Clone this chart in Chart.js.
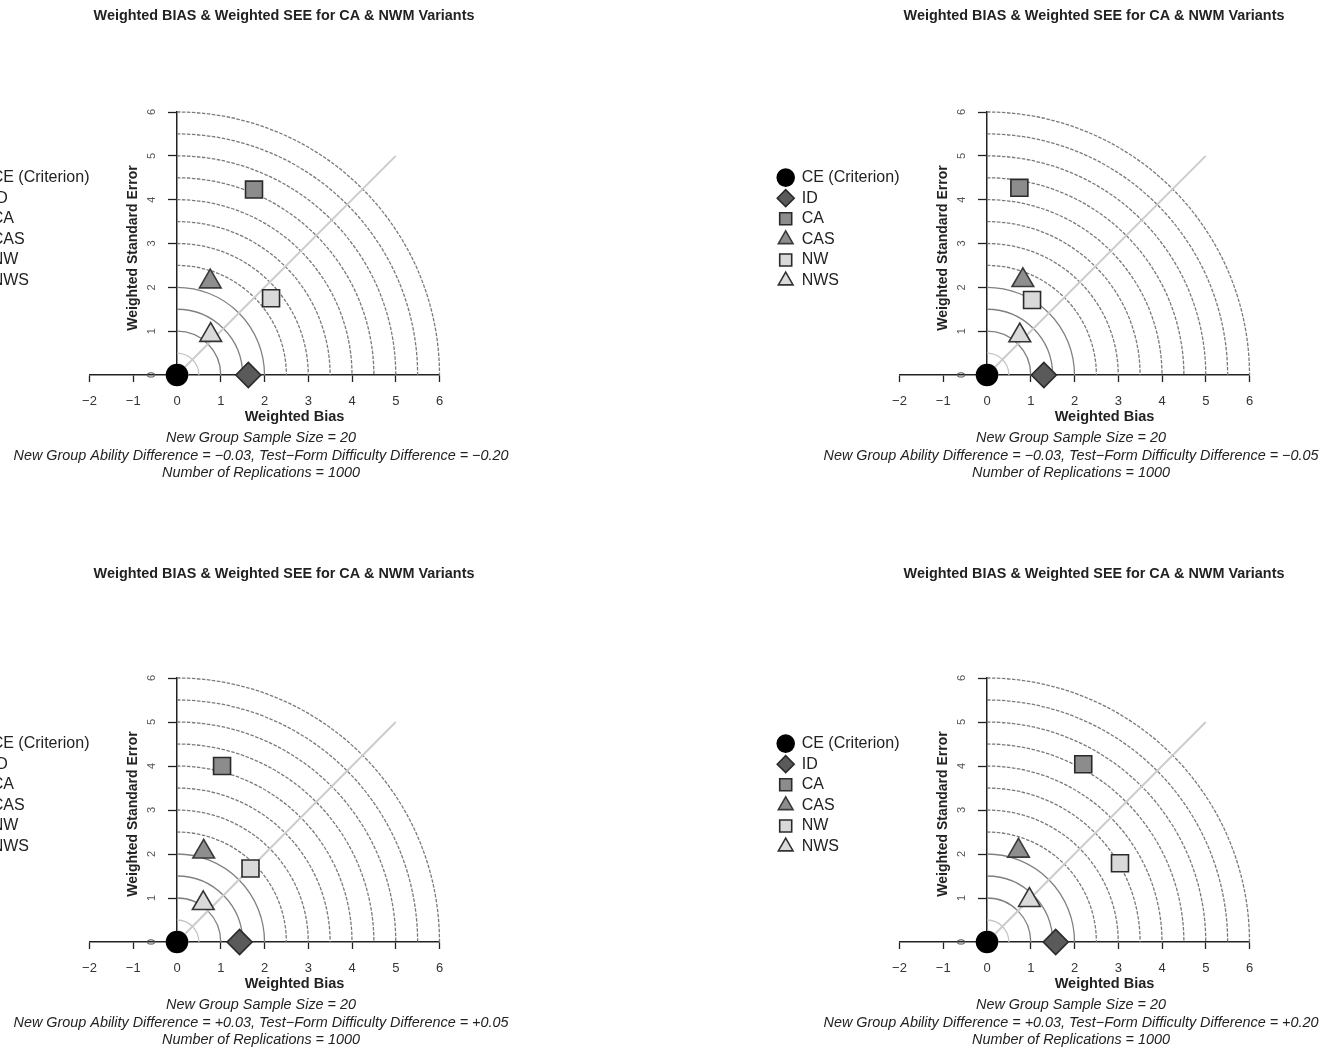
<!DOCTYPE html>
<html lang="en">
<head>
<meta charset="UTF-8">
<title>Weighted BIAS & Weighted SEE for CA & NWM Variants</title>
<script src="https://cdn.jsdelivr.net/npm/chart.js@4.4.1/dist/chart.umd.min.js"></script>
<style>
  html, body { margin: 0; padding: 0; background: #fff; }
  body { width: 1323px; height: 1051px; position: relative; overflow: hidden; }
  canvas { position: absolute; }
</style>
</head>
<body>
<canvas id="c1" width="668" height="500" style="left:-50px;top:0"></canvas>
<canvas id="c2" width="668" height="500" style="left:760px;top:0"></canvas>
<canvas id="c3" width="668" height="486" style="left:-50px;top:565px"></canvas>
<canvas id="c4" width="668" height="486" style="left:760px;top:565px"></canvas>
<script>
// methods shown in every panel
var series = ['CE (Criterion)', 'ID', 'CA', 'CAS', 'NW', 'NWS'];

// weighted bias (x) and weighted standard error (y) per panel
var biasTL = [0, 1.63, 1.76, 0.76, 2.15, 0.77];
var seeTL  = [0, 0, 4.23, 2.13, 1.75, 0.91];
var biasTR = [0, 1.30, 0.74, 0.82, 1.03, 0.75];
var seeTR  = [0, 0, 4.27, 2.16, 1.71, 0.90];
var biasBL = [0, 1.43, 1.03, 0.61, 1.68, 0.60];
var seeBL  = [0, 0, 4.00, 2.05, 1.67, 0.88];
var biasBR = [0, 1.57, 2.20, 0.72, 3.04, 0.97];
var seeBR  = [0, 0, 4.04, 2.07, 1.79, 0.95];

// simulation conditions for the captions
var abilityDiff = ['\u22120.03', '\u22120.03', '+0.03', '+0.03'];
var difficultyDiff = ['\u22120.20', '\u22120.05', '+0.05', '+0.20'];
var sampleSize = 20;
var replications = 1000;
var chartTitle = 'Weighted BIAS & Weighted SEE for CA & NWM Variants';

// reference arcs and the diagonal
var arcRadii = [0.25, 0.5, 1, 1.5, 2, 2.5, 3, 3.5, 4, 4.5, 5, 5.5, 6];
var diagonalEnd = 5;

var FONT = '"Liberation Sans", Arial, sans-serif';
var pointStyles = ['circle', 'rectRot', 'rect', 'triangle', 'rect', 'triangle'];
var fills = ['#000000', '#5a5a5a', '#8c8c8c', '#8e8e8e', '#d9d9d9', '#dadada'];
var borders = ['#000000', '#2a2a2a', '#2a2a2a', '#3a3a3a', '#2a2a2a', '#333333'];
var radii = [10.5, 12.5, 12, 12.5, 12, 12.5];

// arcs, diagonal, rotated y labels and the captions, placed with the chart scales
var guides = {
  id: 'guides',
  beforeDatasetsDraw: function (chart) {
    var ctx = chart.ctx, xs = chart.scales.x, ys = chart.scales.y;
    var cx = xs.getPixelForValue(0), cy = ys.getPixelForValue(0);
    ctx.save();
    arcRadii.forEach(function (r) {
      var rx = xs.getPixelForValue(r) - cx;
      var ry = cy - ys.getPixelForValue(r);
      ctx.beginPath();
      ctx.ellipse(cx, cy, rx, ry, 0, -Math.PI / 2, 0);
      if (r < 1) {
        ctx.strokeStyle = '#c6c6c6';
        ctx.setLineDash([]);
      } else if (r <= 2) {
        ctx.strokeStyle = '#808080';
        ctx.setLineDash([]);
      } else {
        ctx.strokeStyle = '#7a7a7a';
        ctx.setLineDash([3.5, 1.5]);
      }
      ctx.lineWidth = 1.3;
      ctx.stroke();
    });
    ctx.setLineDash([]);
    ctx.beginPath();
    ctx.moveTo(cx, cy);
    ctx.lineTo(xs.getPixelForValue(diagonalEnd), ys.getPixelForValue(diagonalEnd));
    ctx.strokeStyle = '#cccccc';
    ctx.lineWidth = 2;
    ctx.stroke();
    ctx.restore();
  },
  afterDraw: function (chart) {
    var ctx = chart.ctx, area = chart.chartArea;
    var xs = chart.scales.x, ys = chart.scales.y;
    var opts = chart.options.plugins.guides;
    var k = opts.panel;
    var lines = [
      'New Group Sample Size = ' + sampleSize,
      'New Group Ability Difference = ' + abilityDiff[k] + ', Test\u2212Form Difficulty Difference = ' + difficultyDiff[k],
      'Number of Replications = ' + replications
    ];
    ctx.save();
    ctx.textAlign = 'center';
    ctx.textBaseline = 'middle';

    // y tick labels, rotated like the axis title
    ctx.fillStyle = '#555';
    ctx.font = '11px ' + FONT;
    var ax = xs.getPixelForValue(0) - 25;
    ys.ticks.forEach(function (t) {
      ctx.save();
      ctx.translate(ax, ys.getPixelForValue(t.value));
      ctx.rotate(-Math.PI / 2);
      ctx.fillText(String(t.value), 0, 0);
      ctx.restore();
    });

    ctx.fillStyle = '#222';
    ctx.font = 'bold 14.4px ' + FONT;
    ctx.fillText(chartTitle, area.left + 194.5, opts.titleY);
    ctx.font = 'bold 14.5px ' + FONT;
    ctx.fillText('Weighted Bias', area.left + 205, area.bottom + 42);
    ctx.font = 'italic 14.4px ' + FONT;
    for (var i = 0; i < lines.length; i++) {
      ctx.fillText(lines[i], area.left + 171.5, area.bottom + 63 + 17.5 * i);
    }
    ctx.translate(area.left + 44, area.top + 136);
    ctx.rotate(-Math.PI / 2);
    ctx.font = 'bold 14px ' + FONT;
    ctx.fillText('Weighted Standard Error', 0, 0);
    ctx.restore();
  }
};

function makePanel(id, bias, see, k, titleY, areaTop, areaBottom) {
  var canvas = document.getElementById(id);

  var datasets = [];
  for (var i = 0; i < series.length; i++) {
    datasets.push({
      label: series[i],
      data: [{ x: bias[i], y: see[i] }],
      pointStyle: pointStyles[i],
      backgroundColor: fills[i],
      borderColor: borders[i],
      borderWidth: 1.6,
      pointRadius: radii[i],
      pointHoverRadius: radii[i],
      clip: false
    });
  }

  return new Chart(canvas.getContext('2d'), {
    type: 'scatter',
    data: { datasets: datasets },
    options: {
      responsive: false,
      animation: false,
      layout: { padding: { left: 13.1, right: 178.5, top: areaTop, bottom: 0 } },
      plugins: {
        guides: { panel: k, titleY: titleY },
        tooltip: { enabled: false },
        title: { display: false },
        legend: {
          position: 'left',
          align: 'start',
          fullSize: false,
          maxWidth: 126.4,
          // empty title only pushes the entries down to where the original has them
          title: { display: true, text: '', font: { size: 1 }, padding: { top: 51.8, bottom: 0 } },
          labels: {
            usePointStyle: true,
            boxWidth: 16,
            boxHeight: 12,
            padding: 4.6,
            color: '#222',
            font: { family: FONT, size: 16 }
          }
        }
      },
      scales: {
        x: {
          type: 'linear',
          position: 'bottom',
          min: -2,
          max: 6,
          afterFit: function (scale) { scale.height = canvas.height - areaBottom; },
          ticks: {
            stepSize: 1,
            padding: 12,
            color: '#333',
            font: { family: FONT, size: 13 },
            callback: function (v) { return String(v).replace('-', '\u2212'); }
          },
          grid: { drawOnChartArea: false, tickLength: 7, color: '#222', tickWidth: 1.3 },
          border: { color: '#222', width: 1.5 }
        },
        y: {
          type: 'linear',
          position: { x: 0 },
          min: 0,
          max: 6,
          ticks: { stepSize: 1, display: false },
          grid: { drawOnChartArea: false, tickLength: 8, color: '#222', tickWidth: 1.3 },
          border: { color: '#222', width: 1.5 }
        }
      }
    },
    plugins: [guides]
  });
}

makePanel('c1', biasTL, seeTL, 0, 16, 112, 375);
makePanel('c2', biasTR, seeTR, 1, 16, 112, 375);
makePanel('c3', biasBL, seeBL, 2, 9, 113, 377);
makePanel('c4', biasBR, seeBR, 3, 9, 113, 377);
</script>
</body>
</html>
